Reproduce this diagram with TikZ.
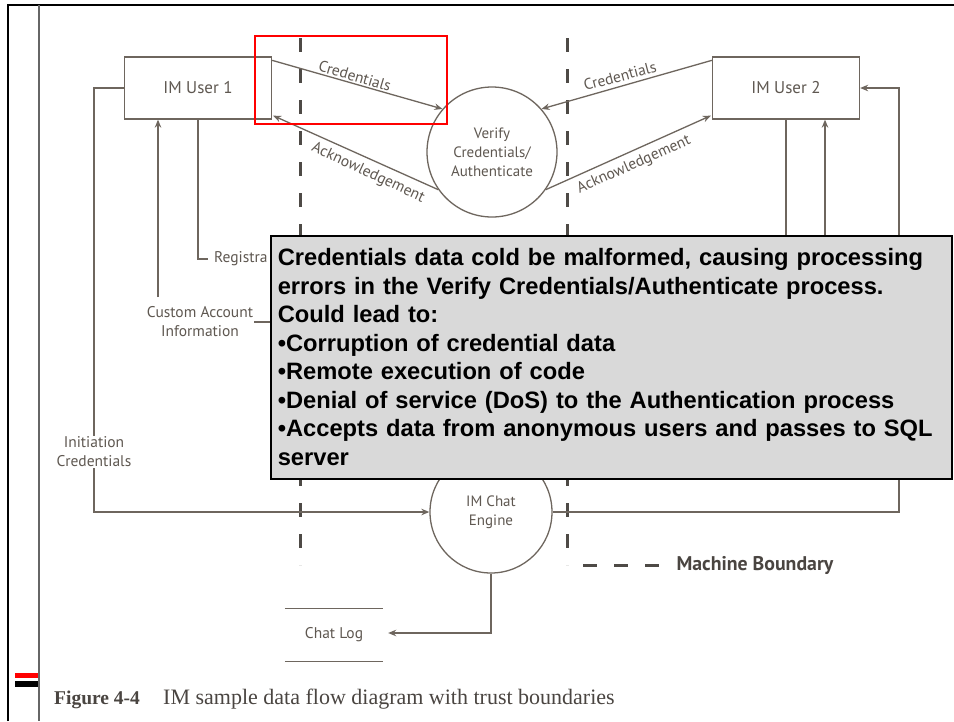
\documentclass[tikz,border=0pt]{standalone}
\usepackage{fontspec}
\setmainfont{Liberation Serif}
\newfontfamily\dfdfont{PT Sans}
\newfontfamily\callfont{Liberation Sans}
\usetikzlibrary{arrows.meta,calc}
\definecolor{ln}{HTML}{6E665E}
\definecolor{tx}{HTML}{5F5851}
\definecolor{bd}{HTML}{4E4A46}
\definecolor{boxfill}{HTML}{D9D9D9}
\definecolor{capc}{HTML}{4A4541}
\begin{document}
\begin{tikzpicture}[x=1pt,y=-1pt,
  flow/.style={draw=ln, line width=1.3pt},
  arr/.style={flow, -{Stealth[length=8pt,width=6.5pt]}},
  entity/.style={draw=ln, line width=1.3pt, minimum width=147pt, minimum height=62pt,
    font=\dfdfont\fontsize{17}{20}\selectfont, text=tx},
  proc/.style={circle, draw=ln, line width=1.3pt, text=tx, align=center, inner sep=0pt,
    font=\dfdfont\fontsize{15}{19}\selectfont},
  lbl/.style={text=tx, font=\dfdfont\fontsize{15.5}{19}\selectfont, inner sep=1pt},
  boundary/.style={draw=bd, line width=3pt, dash pattern=on 14pt off 17pt},
]
\useasboundingbox (0,0) rectangle (954,721);
\fill[white] (0,0) rectangle (954,721);

% page frame
\draw[black, line width=2.5pt] (8,721) -- (8,5) -- (954,5);
\draw[black!60, line width=2pt] (39,5) -- (39,721);
\fill[red] (15,673) rectangle (38,678);
\fill[black] (15,681) rectangle (38,687);

% trust boundaries
\draw[boundary] (300,38) -- (300,565);
\draw[boundary] (567,38) -- (567,565);
\draw[boundary] (583,565) -- (660,565);
\node[anchor=west, text=capc, font=\dfdfont\bfseries\fontsize{19.8}{22}\selectfont] (mb) at (673,565) {Machine Boundary};

% entities and processes
\node[entity] (u1) at (198,88) {IM User 1};
\node[entity] (u2) at (786,88) {IM User 2};
\node[proc, minimum size=130pt] (ver) at (492,152) {Verify\\Credentials/\\Authenticate};
\node[proc, minimum size=122pt] (chat) at (491,512) {IM Chat\\Engine};
\node[lbl, minimum width=98pt, minimum height=52pt] (log) at (334,635) {Chat Log};
\draw[flow] (log.north west) -- (log.north east);
\draw[flow] (log.south west) -- (log.south east);

% flows between users and verify
\draw[arr] ($(u1.north east)+(0,4)$) -- (ver.139);
\draw[arr] (ver.215) -- ($(u1.south east)+(1,-4)$);
\draw[arr] ($(u2.north west)+(0,4)$) -- (ver.41);
\draw[arr] (ver.325) -- ($(u2.south west)+(-1,-4)$);
\node[lbl, rotate=-16.5] (c1) at (355,76) {Credentials};
\node[lbl, rotate=-25] (a1) at (368,173) {Acknowledgement};
\node[lbl, rotate=15] (c2) at (620,76) {Credentials};
\node[lbl, rotate=24] (a2) at (634,165) {Acknowledgement};

% left side flows
\node[lbl, fill=white, align=center] (ic) at (94,452) {Initiation\\Credentials};
\draw[flow] (u1.west) -| (ic.north);
\draw[arr] (ic.south) |- (chat.west);

\node[lbl, align=center] (ca) at (200,322) {Custom Account\\Information};
\coordinate (ca1) at (158,297);
\draw[arr] (ca1) -- (ca1 |- u1.south);

\node[lbl, anchor=west] (reg) at (213,259) {Registra};
\draw[flow] (u1.south) |- ($(reg.west)+(-5,0)$);

% right side flows
\coordinate (r2) at (825,235);
\coordinate (r3) at (899,235);
\coordinate (r4) at (899,478);
\draw[flow] (u2.south) -- (u2.south |- r2);
\draw[arr] (r2) -- (r2 |- u2.south);
\draw[arr] (r3) |- (u2.east);
\draw[flow] (r4) |- (chat.east);

\draw[arr] (chat.south) |- ($(log.east)+(5,-2)$);

% callout
\node[anchor=north west, draw=black, line width=1.5pt, fill=boxfill, minimum width=681pt,
  minimum height=243pt, inner xsep=7pt, text width=667pt, align=left,
  font=\callfont\bfseries\fontsize{23.7}{28.5}\selectfont] (note) at (270,235)
  {Credentials data cold be malformed, causing processing\\
   errors in the Verify Credentials/Authenticate process.\\
   Could lead to:\\
   •Corruption of credential data\\
   •Remote execution of code\\
   •Denial of service (DoS) to the Authentication process\\
   •Accepts data from anonymous users and passes to SQL\\
   server};
\draw[flow] (ca.east) -- (ca.east -| note.west);

% highlight
\draw[red, line width=2pt] (255,36) rectangle (447,124);

% caption
\node[anchor=base west, text=capc, inner sep=0pt, font=\bfseries\fontsize{19.5}{24}\selectfont] (fig) at (54,704) {Figure 4-4};
\node[anchor=base west, text=capc, inner sep=0pt, font=\fontsize{22}{24}\selectfont] (captext) at (163,704) {IM sample data flow diagram with trust boundaries};
\end{tikzpicture}
\end{document}
